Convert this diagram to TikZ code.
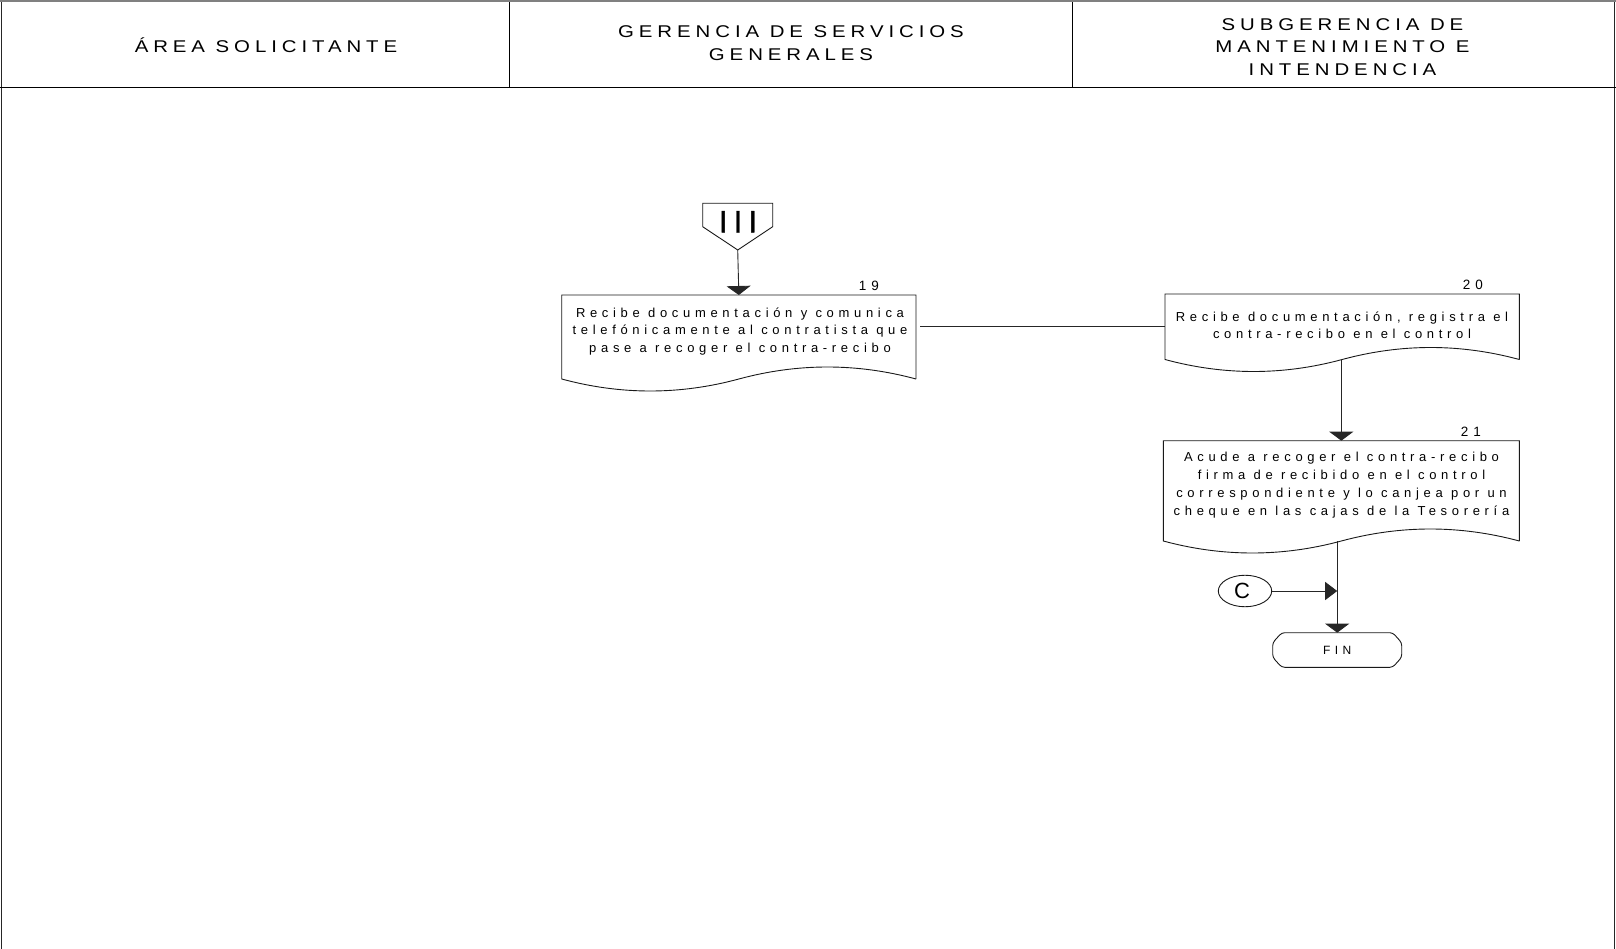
\documentclass[tikz,border=0pt]{standalone}
\usepackage{fontspec}
\setmainfont{Liberation Sans}
\newfontfamily\boxfont[LetterSpace=36]{Liberation Sans}
\newfontfamily\hdrfont[LetterSpace=29,FakeStretch=1.2]{Liberation Sans}
\newfontfamily\connfont[LetterSpace=20,FakeBold=1]{Liberation Sans}
\usetikzlibrary{arrows.meta,calc,shapes.geometric}

\tikzset{
  frameline/.style={draw=black!85, line width=1.2pt},
  laneline/.style={draw=black, line width=0.8pt},
  hdrtext/.style={font=\hdrfont\fontsize{17}{22.5}\selectfont, align=center, inner sep=0pt},
  shapeline/.style={draw=black!90, line width=0.9pt},
  conn/.style={draw=black!85, line width=0.9pt},
  downarrow/.style={conn, -{Triangle[width=24pt,length=9pt]}},
  sidearrow/.style={conn, -{Triangle[width=18pt,length=12pt]}},
  docbox/.style={draw=none, rectangle, inner sep=0pt, outer sep=0pt, anchor=north west},
  stepnum/.style={font=\boxfont\fontsize{13.5}{13.5}\selectfont, inner sep=0pt, anchor=base east},
  boxtext/.style={align=center, inner sep=0pt}
}

% document symbol: straight top and sides, wavy bottom edge
\newcommand\docshape[1]{%
  \draw[shapeline] (#1.south east) -- (#1.north east) -- (#1.north west) -- (#1.south west)
    .. controls ($(#1.south west)!1/3!(#1.south)+(0,16)$) and ($(#1.south west)!2/3!(#1.south)+(0,16)$) .. (#1.south)
    .. controls ($(#1.south)!1/3!(#1.south east)+(0,-16)$) and ($(#1.south)!2/3!(#1.south east)+(0,-16)$) .. (#1.south east);
}

\begin{document}
\begin{tikzpicture}[x=1pt,y=-1pt]
\useasboundingbox (0,0) rectangle (1616,949);

% swimlane frame
\draw[frameline] (1.5,0) -- (1.5,949);
\draw[frameline] (1614.5,0) -- (1614.5,949);
\draw[laneline] (509,0) -- (509,87.3);
\draw[laneline] (1072,0) -- (1072,87.3);
\draw[draw=black, line width=1.2pt] (0,87.3) -- (1616,87.3);
\draw[draw=gray, line width=2.2pt] (0,1.2) -- (1616,1.2);

% lane headings
\node[hdrtext, anchor=base] (h1) at (266,52.5) {ÁREA SOLICITANTE};
\node[hdrtext] (h2) at (791,43) {GERENCIA DE SERVICIOS\\GENERALES};
\node[hdrtext] (h3) at (1342.5,47) {SUBGERENCIA DE\\MANTENIMIENTO E\\INTENDENCIA};

% off-page connector III
\node[docbox, minimum width=70, minimum height=23.4] (p3) at (702.7,203.3) {};
\coordinate (ptip) at ($(p3.south)+(0,23.3)$);
\draw[shapeline] (p3.north west) -- (p3.north east) -- (p3.south east) -- (ptip) -- (p3.south west) -- cycle;
\node[inner sep=0pt, font=\connfont\fontsize{31}{31}\selectfont] (t3) at (738,221.7) {III};

% step 19
\node[docbox, minimum width=354.3, minimum height=84] (b19) at (561.7,295) {};
\docshape{b19}
\node[boxtext, font=\boxfont\fontsize{13}{17.5}\selectfont] (t19) at (740,331.5)
  {Recibe documentación y comunica\\telefónicamente al contratista que\\pase a recoger el contra-recibo};
\node[stepnum] (n19) at (879,291) {19};

% step 20
\node[docbox, minimum width=354.3, minimum height=65.5] (b20) at (1165,294) {};
\docshape{b20}
\node[boxtext, font=\boxfont\fontsize{13}{17}\selectfont] (t20) at (1342,325.3)
  {Recibe documentación, registra el\\contra-recibo en el control};
\node[stepnum] (n20) at (1483,290) {20};

% step 21
\node[docbox, minimum width=356, minimum height=100.3] (b21) at (1163.3,440.7) {};
\docshape{b21}
\node[boxtext, font=\boxfont\fontsize{13}{17.8}\selectfont] (t21) at (1341.5,485.3)
  {Acude a recoger el contra-recibo\\firma de recibido en el control\\correspondiente y lo canjea por un\\cheque en las cajas de la Tesorería};
\node[stepnum] (n21) at (1481,436) {21};

% connector C and end terminal
\node[ellipse, shapeline, minimum width=53.4, minimum height=31.5, inner sep=0pt] (c) at (1245,591) {};
\node[inner sep=0pt, font=\fontsize{22}{22}\selectfont] (tc) at (1242,591) {C};
\node[draw=none, rectangle, inner sep=0pt, outer sep=0pt, minimum width=129, minimum height=34.6,
      font=\boxfont\fontsize{12}{12}\selectfont] (fin) at (1337.2,650) {FIN};
\draw[shapeline, rounded corners=3pt]
  ($(fin.north west)+(9,0)$) -- ($(fin.north east)+(-9,0)$) -- ($(fin.north east)+(0,10)$)
  -- ($(fin.south east)+(0,-10)$) -- ($(fin.south east)+(-9,0)$) -- ($(fin.south west)+(9,0)$)
  -- ($(fin.south west)+(0,-10)$) -- ($(fin.north west)+(0,10)$) -- cycle;

% flow
\draw[downarrow] (ptip) -- (b19.north);
\draw[conn] ([xshift=4pt]b19.east |- b20.west) -- (b20.west);
\draw[downarrow] (b21.north |- b20.south) -- (b21.north);
\draw[downarrow] (fin.north |- b21.south) -- (fin.north);
\draw[sidearrow] (c.east) -- (c.east -| fin.north);
\end{tikzpicture}
\end{document}
